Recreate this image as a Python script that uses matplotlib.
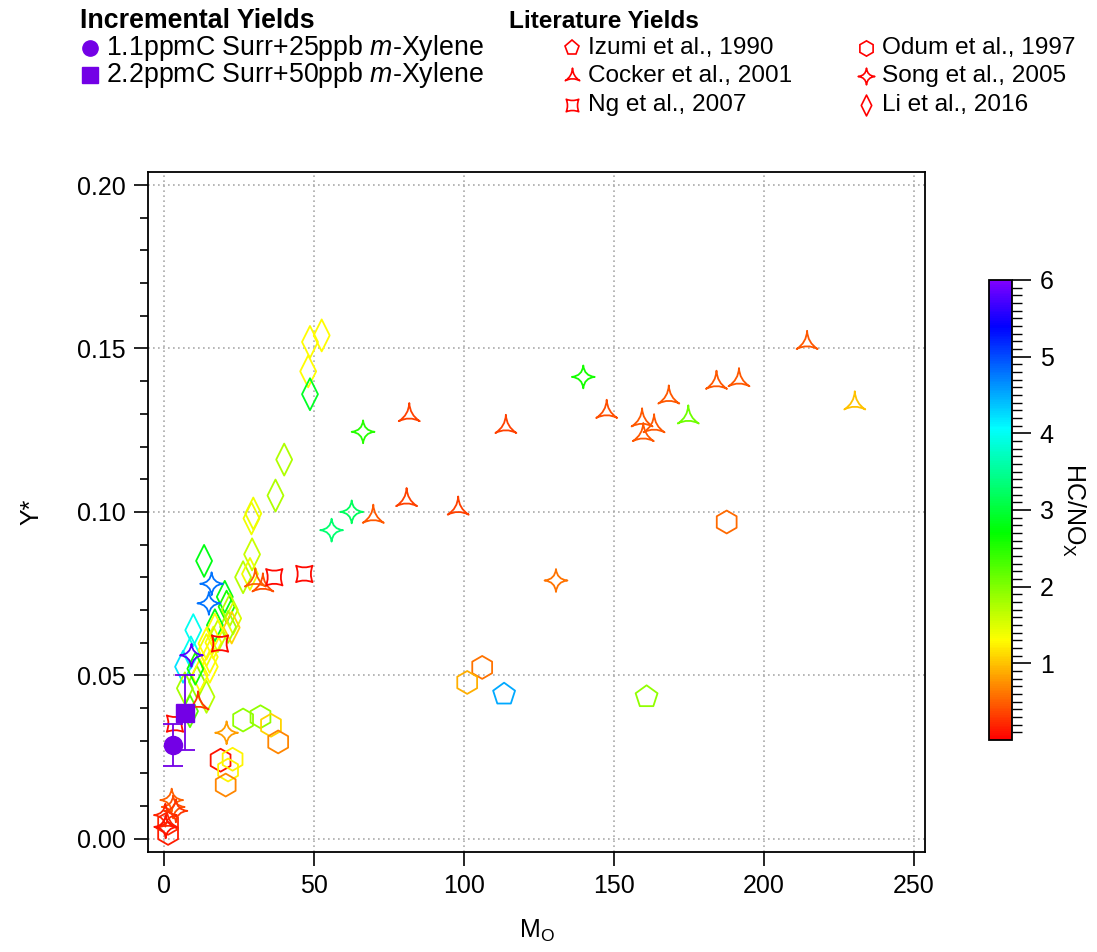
import numpy as np
import matplotlib
matplotlib.use("Agg")
import matplotlib.pyplot as plt
from matplotlib.path import Path
from matplotlib.colors import LinearSegmentedColormap, Normalize
from matplotlib.lines import Line2D
from matplotlib.cm import ScalarMappable

plt.rcParams['font.family'] = ['Liberation Sans', 'DejaVu Sans']
plt.rcParams['mathtext.fontset'] = 'custom'
plt.rcParams['mathtext.rm'] = 'Liberation Sans'
plt.rcParams['mathtext.it'] = 'Liberation Sans:italic'
plt.rcParams['mathtext.bf'] = 'Liberation Sans:bold'

# ---- data (M_O, Y*, HC/NOx) ----
izumi_mo = [113.4, 160.9]
izumi_y = [0.0442, 0.0434]
izumi_c = [4.5, 1.9]

odum_mo = [26.4, 32.2, 35.7, 38.1, 18.9, 22.9, 21.4, 20.6, 1.4, 1.4, 106.1, 101.1, 187.6]
odum_y = [0.0363, 0.0373, 0.0347, 0.0296, 0.0240, 0.0243, 0.0210, 0.0164, 0.0016, 0.0047, 0.0524, 0.0478, 0.0969]
odum_c = [1.9, 1.9, 1.1, 0.7, 0.1, 1.25, 1.25, 0.7, 0.15, 0.2, 0.6, 0.9, 0.55]

cocker_mo = [81.8, 114.0, 147.6, 69.8, 80.9, 98.1, 214.4, 184.2, 191.7, 168.3, 174.8,
             159.4, 163.4, 159.8, 230.3, 30.5, 33.0, 11.4, 1.0]
cocker_y = [0.1296, 0.1260, 0.1306, 0.0985, 0.1036, 0.1010, 0.1517, 0.1395, 0.1403, 0.1350, 0.1289,
            0.1280, 0.1262, 0.1235, 0.1332, 0.0790, 0.0775, 0.0414, 0.0050]
cocker_c = [0.35, 0.35, 0.4, 0.45, 0.35, 0.35, 0.45, 0.45, 0.45, 0.45, 2.1,
            0.45, 0.45, 0.45, 1.0, 0.5, 0.4, 0.3, 0.2]

song_mo = [66.4, 139.8, 62.6, 55.9, 15.9, 15.0, 9.2, 20.9, 130.7, 2.6, 3.1, 0.5, 0.6, 4.0]
song_y = [0.1245, 0.1413, 0.1000, 0.0944, 0.0780, 0.0720, 0.0561, 0.0324, 0.0790, 0.0118, 0.0097, 0.0072, 0.0036, 0.0085]
song_c = [2.5, 2.6, 3.2, 3.3, 4.8, 4.8, 5.8, 0.8, 0.6, 0.5, 0.4, 0.2, 0.1, 0.3]

ng_mo = [36.8, 46.8, 18.7, 3.7]
ng_y = [0.0800, 0.0810, 0.0597, 0.0352]
ng_c = [0.05, 0.05, 0.05, 0.05]

li_mo = [48.7, 52.6, 48.1, 48.7, 40.1, 37.2, 29.8, 29.2, 29.4, 26.4, 28.7, 13.4, 20.3, 20.9,
         22.0, 23.1, 21.4, 17.0, 22.6, 9.8, 9.0, 14.2, 15.3, 6.4, 15.3, 14.2, 7.0, 8.7,
         11.0, 12.0, 16.5, 18.0, 10.5, 17.0, 14.2]
li_y = [0.152, 0.154, 0.143, 0.136, 0.116, 0.105, 0.0995, 0.098, 0.087, 0.080, 0.081, 0.085, 0.074, 0.071,
        0.070, 0.0674, 0.0648, 0.0653, 0.0646, 0.0638, 0.057, 0.0577, 0.0556, 0.0526, 0.0526, 0.0434, 0.046, 0.039,
        0.048, 0.050, 0.060, 0.062, 0.052, 0.064, 0.0597]
li_c = [1.3, 1.3, 1.3, 2.9, 1.75, 1.75, 1.4, 1.4, 1.6, 1.7, 1.4, 2.8, 2.8, 2.6,
        1.7, 1.5, 1.8, 2.8, 1.1, 4.0, 4.0, 1.4, 1.3, 4.2, 1.3, 1.7, 1.8, 2.2,
        1.9, 1.3, 1.3, 1.6, 2.6, 1.3, 1.3]

inc_mo = [3.1, 7.0]
inc_y = [0.0286, 0.0385]
inc_err = [0.0064, 0.0115]
inc_labels = ["1.1ppmC Surr+25ppb $m$-Xylene", "2.2ppmC Surr+50ppb $m$-Xylene"]
lit_labels = ["Izumi et al., 1990", "Cocker et al., 2001", "Ng et al., 2007",
              "Odum et al., 1997", "Song et al., 2005", "Li et al., 2016"]

# ---- colormap (Igor-like rainbow) ----
cmap = LinearSegmentedColormap.from_list("rb", [
    (0.0, (1, 0, 0)), (0.217, (1, 1, 0)), (0.45, (0, 1, 0)),
    (0.678, (0, 1, 1)), (0.9, (0, 0, 1)), (1.0, (0.5, 0, 1))])
norm = Normalize(0, 6)


def concave_star(n, rot, inner):
    verts, codes = [], []
    for k in range(n + 1):
        a = rot + 2 * np.pi * k / n
        tip = (np.cos(a), np.sin(a))
        if k == 0:
            verts.append(tip); codes.append(Path.MOVETO)
        else:
            am = a - np.pi / n
            verts.append((inner * np.cos(am), inner * np.sin(am))); codes.append(Path.CURVE3)
            verts.append(tip); codes.append(Path.CURVE3)
    verts.append((0, 0)); codes.append(Path.CLOSEPOLY)
    return Path(verts, codes)


tri_star = concave_star(3, np.pi / 2, 0.05)
four_star = concave_star(4, 0, 0.12)
ng_star = concave_star(4, np.pi / 4, 0.42)
tall_diamond = Path([(0, 1), (0.5, 0), (0, -1), (-0.5, 0), (0, 1)],
                    [Path.MOVETO, Path.LINETO, Path.LINETO, Path.LINETO, Path.CLOSEPOLY])

fig = plt.figure(figsize=(10.97, 9.52), dpi=100)
ax = fig.add_axes([0.1349, 0.105, 0.7083, 0.7143])

fs = 18
lfs = 19.3   # left legend block / axis titles
rfs = 17.6   # right legend block
purple = (0.45, 0.0, 0.9)

series = [
    (li_mo, li_y, li_c, tall_diamond, 530),
    (odum_mo, odum_y, odum_c, 'h', 272),
    (izumi_mo, izumi_y, izumi_c, 'p', 275),
    (cocker_mo, cocker_y, cocker_c, tri_star, 306),
    (song_mo, song_y, song_c, four_star, 272),
    (ng_mo, ng_y, ng_c, ng_star, 140),
]
for mo, y, c, mk, s in series:
    ax.scatter(mo, y, s=s, marker=mk, facecolors='none',
               edgecolors=cmap(norm(np.array(c))), linewidths=1.3, zorder=3)

ax.errorbar(inc_mo[:1], inc_y[:1], yerr=inc_err[:1], fmt='o', ms=13, color=purple,
            capsize=7, elinewidth=1.3, capthick=1.3, zorder=4)
ax.errorbar(inc_mo[1:], inc_y[1:], yerr=inc_err[1:], fmt='s', ms=13, color=purple,
            capsize=7, elinewidth=1.3, capthick=1.3, zorder=4)

ax.set_xlim(-5.3, 253.7)
ax.set_ylim(-0.0041, 0.204)
ax.set_xticks([0, 50, 100, 150, 200, 250])
ax.set_yticks([0.0, 0.05, 0.10, 0.15, 0.20])
ax.set_yticks(np.arange(0, 0.2001, 0.01), minor=True)
ax.set_yticklabels(["0.00", "0.05", "0.10", "0.15", "0.20"])
ax.tick_params(axis='both', which='major', labelsize=fs, length=10, width=1.2,
               direction='out', pad=6)
ax.tick_params(axis='y', which='minor', length=6, width=1.2, direction='out')
ax.grid(True, which='major', color='#aaaaaa', linestyle=(0, (1, 2)), linewidth=1.2)
for sp in ax.spines.values():
    sp.set_linewidth(1.3)

ax.set_xlabel(r"M$_{\mathrm{O}}$", fontsize=fs, labelpad=14)
ax.set_ylabel("Y*", fontsize=fs, labelpad=24)

# colorbar
cax = fig.add_axes([0.9015, 0.2227, 0.021, 0.4832])
cb = fig.colorbar(ScalarMappable(norm=norm, cmap=cmap), cax=cax)
cb.set_ticks([1, 2, 3, 4, 5, 6])
cb.ax.set_yticks(np.arange(0.1, 6.0, 0.1), minor=True)
cb.ax.tick_params(which='major', labelsize=fs, length=14, width=1.2, pad=6)
cb.ax.tick_params(which='minor', length=7, width=1.0)
cb.outline.set_linewidth(1.3)
cb.set_label(r"HC/NO$_{\mathrm{X}}$", fontsize=fs, rotation=270, labelpad=24)

# legend drawn as figure text
W, H = 1097.0, 952.0


def fx(px):
    return px / W


def fy(py):
    return 1 - py / H


fig.text(fx(80), fy(21), "Incremental Yields", fontsize=lfs, weight='bold', va='center')
fig.text(fx(509), fy(21), "Literature Yields", fontsize=rfs, weight='bold', va='center')
for lab, mk, py in zip(inc_labels, ['o', 's'], [48, 75]):
    fig.add_artist(Line2D([fx(90)], [fy(py)], transform=fig.transFigure, marker=mk,
                          ms=11, color=purple, linestyle='none'))
    fig.text(fx(106), fy(py), lab, fontsize=lfs, va='center')

lit_markers = ['p', tri_star, ng_star, 'h', four_star, tall_diamond]
lit_ms = [11, 12, 9, 11, 12, 15]
lit_pos = [(572, 48), (572, 76), (572, 105), (866, 48), (866, 76), (866, 105)]
for lab, mk, ms, (px, py) in zip(lit_labels, lit_markers, lit_ms, lit_pos):
    fig.add_artist(Line2D([fx(px)], [fy(py)], transform=fig.transFigure, marker=mk,
                          ms=ms, markerfacecolor='none', markeredgecolor='red',
                          markeredgewidth=1.2, linestyle='none'))
    fig.text(fx(px + 16), fy(py), lab, fontsize=rfs, va='center')

fig.savefig("out.png", dpi=100)
